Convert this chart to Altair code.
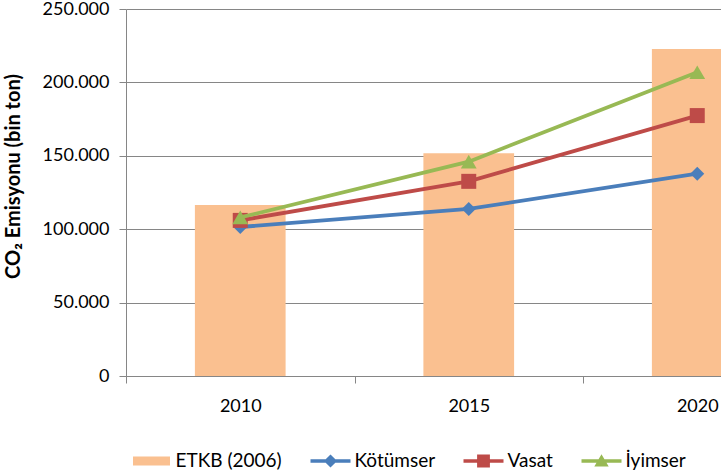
import altair as alt
import pandas as pd

years = ["2010", "2015", "2020"]
etkb = [116500, 151700, 222700]
kotumser = [101500, 113800, 137800]
vasat = [106000, 132600, 177400]
iyimser = [108000, 146000, 206900]

series_names = ["ETKB (2006)", "Kötümser", "Vasat", "İyimser"]
series_colors = ["#FAC090", "#4A7EBB", "#BE4B48", "#98B954"]
marker_shapes = ["diamond", "square", "triangle-up"]

# legend symbol paths (unit coordinates)
legend_paths = [
    "M-0.925,-0.225H0.925V0.225H-0.925Z",
    "M-1,-0.09H1V0.09H-1Z M0,-0.33L0.33,0L0,0.33L-0.33,0Z",
    "M-1,-0.09H1V0.09H-1Z M-0.32,-0.32H0.32V0.32H-0.32Z",
    "M-1,-0.09H1V0.09H-1Z M0,-0.34L0.36,0.28L-0.36,0.28Z",
]

FONT = "Lato"

bar_df = pd.DataFrame({"year": years, "value": etkb})
rows = []
for name, vals in zip(series_names[1:], [kotumser, vasat, iyimser]):
    for y, v in zip(years, vals):
        rows.append({"year": y, "series": name, "value": v})
line_df = pd.DataFrame(rows)
legend_df = pd.DataFrame({"series": series_names})

x_scale = alt.Scale(domain=years, range=[0, 685.5], paddingInner=0, paddingOuter=0)
y_scale = alt.Scale(domain=[0, 250000], nice=False)

x_axis = alt.Axis(
    title=None, tickBand="extent", labelAngle=0, labelFont=FONT, labelFontSize=18,
    labelColor="#000000", domainColor="#868686", tickColor="#868686", tickSize=7,
    labelPadding=14, grid=False,
)
y_axis = alt.Axis(
    title="CO₂ Emisyonu (bin ton)", values=[0, 50000, 100000, 150000, 200000, 250000],
    labelExpr="replace(format(datum.value, ','), ',', '.')",
    labelFont=FONT, labelFontSize=18, labelColor="#000000", labelPadding=10,
    domainColor="#868686", tickColor="#868686", tickSize=7,
    gridColor="#868686", gridWidth=1,
    titleFont=FONT, titleFontSize=20, titleFontWeight="bold", titleColor="#000000",
    titleX=-103, titleY=167, titleBaseline="bottom",
)

bars = alt.Chart(bar_df).mark_bar(
    color=series_colors[0], width=alt.RelativeBandSize(0.397), clip=True
).encode(
    x=alt.X("year:N", scale=x_scale, axis=x_axis, sort=years),
    y=alt.Y("value:Q", scale=y_scale, axis=y_axis),
)

layers = [bars]
for name, col, shp in zip(series_names[1:], series_colors[1:], marker_shapes):
    sub = line_df[line_df["series"] == name]
    ln = alt.Chart(sub).mark_line(color=col, strokeWidth=3.8, clip=True).encode(
        x=alt.X("year:N", scale=x_scale, sort=years),
        y=alt.Y("value:Q", scale=y_scale),
    )
    size = 225 if shp == "square" else (250 if shp == "triangle-up" else 196)
    pt = alt.Chart(sub).mark_point(
        shape=shp, filled=True, color=col, size=size, opacity=1, clip=True
    ).encode(
        x=alt.X("year:N", scale=x_scale, sort=years),
        y=alt.Y("value:Q", scale=y_scale),
    )
    layers += [ln, pt]

legend_cfg = dict(
    title=None, orient="none", direction="horizontal", columns=4,
    legendX=5.5, legendY=432, padding=0,
    symbolSize=1600, symbolOpacity=1, symbolStrokeWidth=0,
    labelFont=FONT, labelFontSize=19, labelColor="#000000",
    labelOffset=4, columnPadding=28,
)

legend_layer = alt.Chart(legend_df).mark_point(filled=True, opacity=0).encode(
    color=alt.Color(
        "series:N",
        scale=alt.Scale(domain=series_names, range=series_colors),
        legend=alt.Legend(**legend_cfg),
    ),
    shape=alt.Shape(
        "series:N",
        scale=alt.Scale(domain=series_names, range=legend_paths),
        legend=alt.Legend(**legend_cfg),
    ),
)

chart = alt.layer(*layers, legend_layer).properties(
    width=595, height=367,
    padding={"left": 126, "top": 9, "right": 0, "bottom": 96},
    autosize=alt.AutoSizeParams(type="none"),
    background="#ffffff",
).configure_view(stroke=None)

chart.save("out.html", embed_options={"renderer": "svg", "actions": False})
